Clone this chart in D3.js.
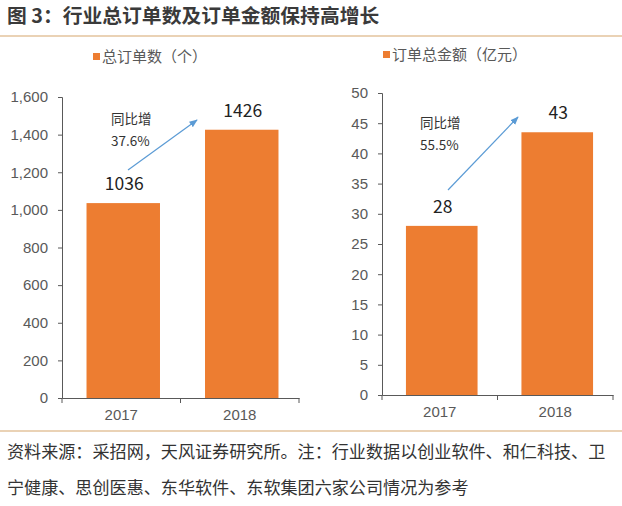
<!DOCTYPE html>
<html><head><meta charset="utf-8">
<script src="https://cdn.jsdelivr.net/npm/d3@7"></script>
<style>
html,body{margin:0;padding:0;background:#fff;}
svg{display:block;}
</style></head>
<body>
<script>
const categories = ["2017", "2018"];
const orderCounts = [1036, 1426];
const orderCountLabels = ["1036", "1426"];
const orderAmounts = [28, 43.5];
const orderAmountLabels = ["28", "43"];
const countTicks = [0, 200, 400, 600, 800, 1000, 1200, 1400, 1600];
const amountTicks = [0, 5, 10, 15, 20, 25, 30, 35, 40, 45, 50];
const countGrowth = ["同比增", "37.6%"];
const amountGrowth = ["同比增", "55.5%"];
const titleText = "图 3：行业总订单数及订单金额保持高增长";
const legendLeft = "总订单数（个）";
const legendRight = "订单总金额（亿元）";
const footLines = ["资料来源：采招网，天风证券研究所。注：行业数据以创业软件、和仁科技、卫",
                   "宁健康、思创医惠、东华软件、东软集团六家公司情况为参考"];

const W = 622, H = 506;
const BAR = "#ED7D31", AX = "#595959", LINE = "#D6A66C", ARROW = "#5B9BD5";
const NUM = "'Liberation Sans', Arial, sans-serif";
const CJK = "'Noto Sans CJK SC', sans-serif";

const svg = d3.select("body").append("svg").attr("width", W).attr("height", H);
svg.append("defs").append("marker").attr("id", "arr").attr("viewBox", "0 0 10 10")
  .attr("refX", 9).attr("refY", 5).attr("markerWidth", 7).attr("markerHeight", 7)
  .attr("orient", "auto").append("path").attr("d", "M0,1 L10,5 L0,9 Z").attr("fill", ARROW);

svg.append("text").attr("x", 7).attr("y", 23).text(titleText)
  .attr("font-family", CJK).attr("font-weight", "bold").attr("font-size", 19.8).attr("fill", "#3a3a3a");
svg.append("line").attr("x1", 0).attr("x2", W).attr("y1", 36).attr("y2", 36).attr("stroke", LINE).attr("stroke-width", 1.2);
svg.append("line").attr("x1", 0).attr("x2", W).attr("y1", 431).attr("y2", 431).attr("stroke", LINE).attr("stroke-width", 1.2);
footLines.forEach((t, i) => {
  svg.append("text").attr("x", 7).attr("y", 458 + i * 36).text(t)
    .attr("font-family", CJK).attr("font-size", 17.1).attr("fill", "#333");
});

function panel(cfg) {
  const x = d3.scaleBand().domain(categories).range([cfg.x0, cfg.x1]).padding(0);
  const y = d3.scaleLinear().domain([cfg.ticks[0], cfg.ticks[cfg.ticks.length - 1]]).range([cfg.yb, cfg.yt]);
  const g = svg.append("g");
  const bw = x.bandwidth() * 0.62;
  g.selectAll("rect").data(cfg.values).join("rect")
    .attr("x", (d, i) => x(categories[i]) + x.bandwidth() / 2 - bw / 2 + 2)
    .attr("width", bw)
    .attr("y", d => y(d)).attr("height", d => y(0) - y(d)).attr("fill", BAR);
  const ya = g.append("g").attr("transform", `translate(${cfg.x0},0)`)
    .call(d3.axisLeft(y).tickValues(cfg.ticks).tickSize(4).tickPadding(10).tickFormat(cfg.fmt));
  ya.select(".domain").attr("stroke", AX);
  ya.selectAll(".tick line").attr("stroke", AX);
  ya.selectAll("text").attr("font-family", NUM).attr("font-size", 15).attr("fill", AX);
  const xa = g.append("g").attr("transform", `translate(0,${cfg.yb})`)
    .call(d3.axisBottom(x).tickSize(0).tickPadding(11));
  xa.select(".domain").attr("stroke", AX);
  xa.selectAll("text").attr("font-family", NUM).attr("font-size", 15).attr("fill", AX);
  const bounds = categories.map(c => x(c)).concat([x(categories[categories.length - 1]) + x.bandwidth()]);
  g.selectAll(".bt").data(bounds).join("line").attr("class", "bt")
    .attr("x1", d => d).attr("x2", d => d).attr("y1", cfg.yb).attr("y2", cfg.yb + 5).attr("stroke", AX);
  g.selectAll(".vl").data(cfg.values).join("text").attr("class", "vl")
    .attr("x", (d, i) => x(categories[i]) + x.bandwidth() / 2 + 3)
    .attr("y", d => y(d) - 13).attr("text-anchor", "middle")
    .text((d, i) => cfg.labels[i])
    .attr("font-family", CJK).attr("font-size", 17.5).attr("fill", "#222");
  // legend
  svg.append("rect").attr("x", cfg.lx).attr("y", cfg.ly - 4).attr("width", 7).attr("height", 7).attr("fill", BAR);
  svg.append("text").attr("x", cfg.lx + 9).attr("y", cfg.ly + 5).text(cfg.legend)
    .attr("font-family", CJK).attr("font-size", 15).attr("fill", AX);
  // growth annotation
  cfg.growth.forEach((t, i) => {
    svg.append("text").attr("x", cfg.gx).attr("y", cfg.gy + i * 22).text(t)
      .attr("font-family", CJK).attr("font-size", 13.5).attr("fill", "#333");
  });
  svg.append("line").attr("x1", cfg.a[0]).attr("y1", cfg.a[1]).attr("x2", cfg.a[2]).attr("y2", cfg.a[3])
    .attr("stroke", ARROW).attr("stroke-width", 1.2).attr("marker-end", "url(#arr)");
}

panel({x0: 62, x1: 299, yb: 398, yt: 97, ticks: countTicks, values: orderCounts, labels: orderCountLabels,
  fmt: d3.format(","), legend: legendLeft, lx: 93, ly: 57, growth: countGrowth, gx: 111, gy: 124,
  a: [128, 170, 197, 120]});
panel({x0: 382, x1: 613, yb: 395, yt: 93, ticks: amountTicks, values: orderAmounts, labels: orderAmountLabels,
  fmt: d3.format("d"), legend: legendRight, lx: 383, ly: 55, growth: amountGrowth, gx: 420, gy: 128,
  a: [448, 190, 518, 117]});
</script>
</body></html>
